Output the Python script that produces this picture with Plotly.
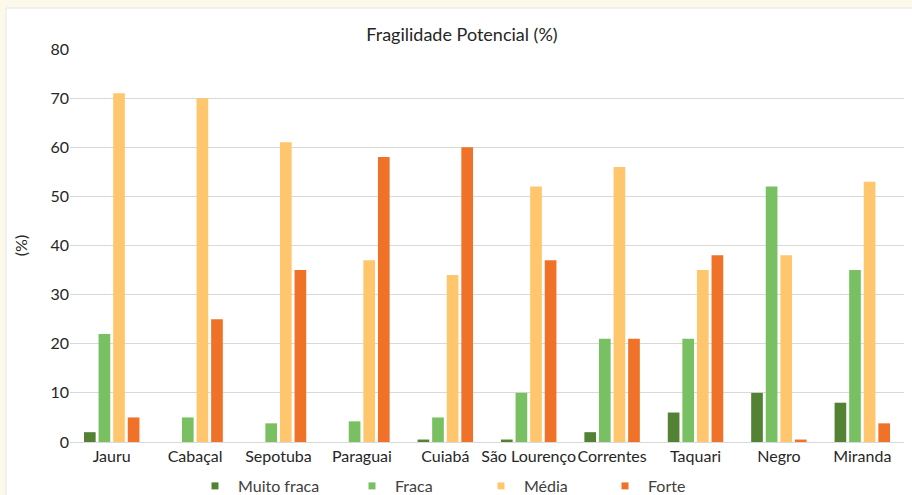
import plotly.graph_objects as go

categories = ["Jauru", "Cabaçal", "Sepotuba", "Paraguai", "Cuiabá", "São Lourenço",
              "Correntes", "Taquari", "Negro", "Miranda"]
muito_fraca = [2, 0, 0, 0, 0.5, 0.5, 2, 6, 10, 8]
fraca = [22, 5, 3.8, 4.2, 5, 10, 21, 21, 52, 35]
media = [71, 70, 61, 37, 34, 52, 56, 35, 38, 53]
forte = [5, 25, 35, 58, 60, 37, 21, 38, 0.5, 3.8]
y_ticks = [0, 10, 20, 30, 40, 50, 60, 70, 80]

series = [
    ("Muito fraca", muito_fraca, "#548235"),
    ("Fraca", fraca, "#78c062"),
    ("Média", media, "#ffc66d"),
    ("Forte", forte, "#f07128"),
]

W, H = 912, 495
L, R, T, B = 70, 8, 49, 53
pw = W - L - R
ph = H - T - B

def px_x(p):
    return (p - L) / pw

def px_y(p):
    return (H - B - p) / ph

font = "Lato, 'Open Sans', sans-serif"
fig = go.Figure()
for name, vals, col in series:
    fig.add_trace(go.Bar(x=categories, y=vals, name=name, marker_color=col,
                         marker_line_width=0, showlegend=False))

legend_marker_px = [213, 370, 499, 623]
for i, (name, vals, col) in enumerate(series):
    lg = "legend" if i == 0 else f"legend{i+1}"
    fig.add_trace(go.Scatter(x=[None], y=[None], mode="markers", name=name,
                             marker=dict(symbol="square", size=7, color=col),
                             legend=lg, showlegend=True))

legend_common = dict(orientation="h", xanchor="left", yanchor="middle",
                     y=px_y(486), bgcolor="rgba(0,0,0,0)", itemwidth=36,
                     font=dict(family=font, size=16, color="#404040"))
legends = {}
for i, mx in enumerate(legend_marker_px):
    key = "legend" if i == 0 else f"legend{i+1}"
    legends[key] = dict(legend_common, x=px_x(mx - 21))

fig.update_layout(
    width=W, height=H,
    margin=dict(l=L, r=R, t=T, b=B, autoexpand=False),
    paper_bgcolor="#fdf9ea",
    plot_bgcolor="rgba(0,0,0,0)",
    barmode="group", bargap=0.3, bargroupgap=0.2,
    title=dict(text="Fragilidade Potencial (%)", xref="paper", x=px_x(462),
               xanchor="center", y=1 - 35 / H, yanchor="middle",
               font=dict(family=font, size=18, color="#262626")),
    font=dict(family=font, size=16, color="#404040"),
    xaxis=dict(showgrid=False, showline=True, linecolor="#d9d9d9", linewidth=1,
               ticks="", tickangle=0, tickfont=dict(size=16, color="#262626")),
    yaxis=dict(range=[0, 80], tickvals=y_ticks, showgrid=True, gridcolor="#d9d9d9",
               gridwidth=1, zeroline=False, ticks="", ticklen=0,
               tickfont=dict(size=16, color="#262626"),
               title=dict(text="(%)", font=dict(size=16, color="#262626"), standoff=18)),
    shapes=[dict(type="rect", xref="paper", yref="paper",
                 x0=px_x(6), x1=px_x(914), y0=px_y(497), y1=px_y(8),
                 fillcolor="white", line=dict(color="#e6e6e6", width=1), layer="below")],
    **legends,
)

fig.write_html("out.html")
